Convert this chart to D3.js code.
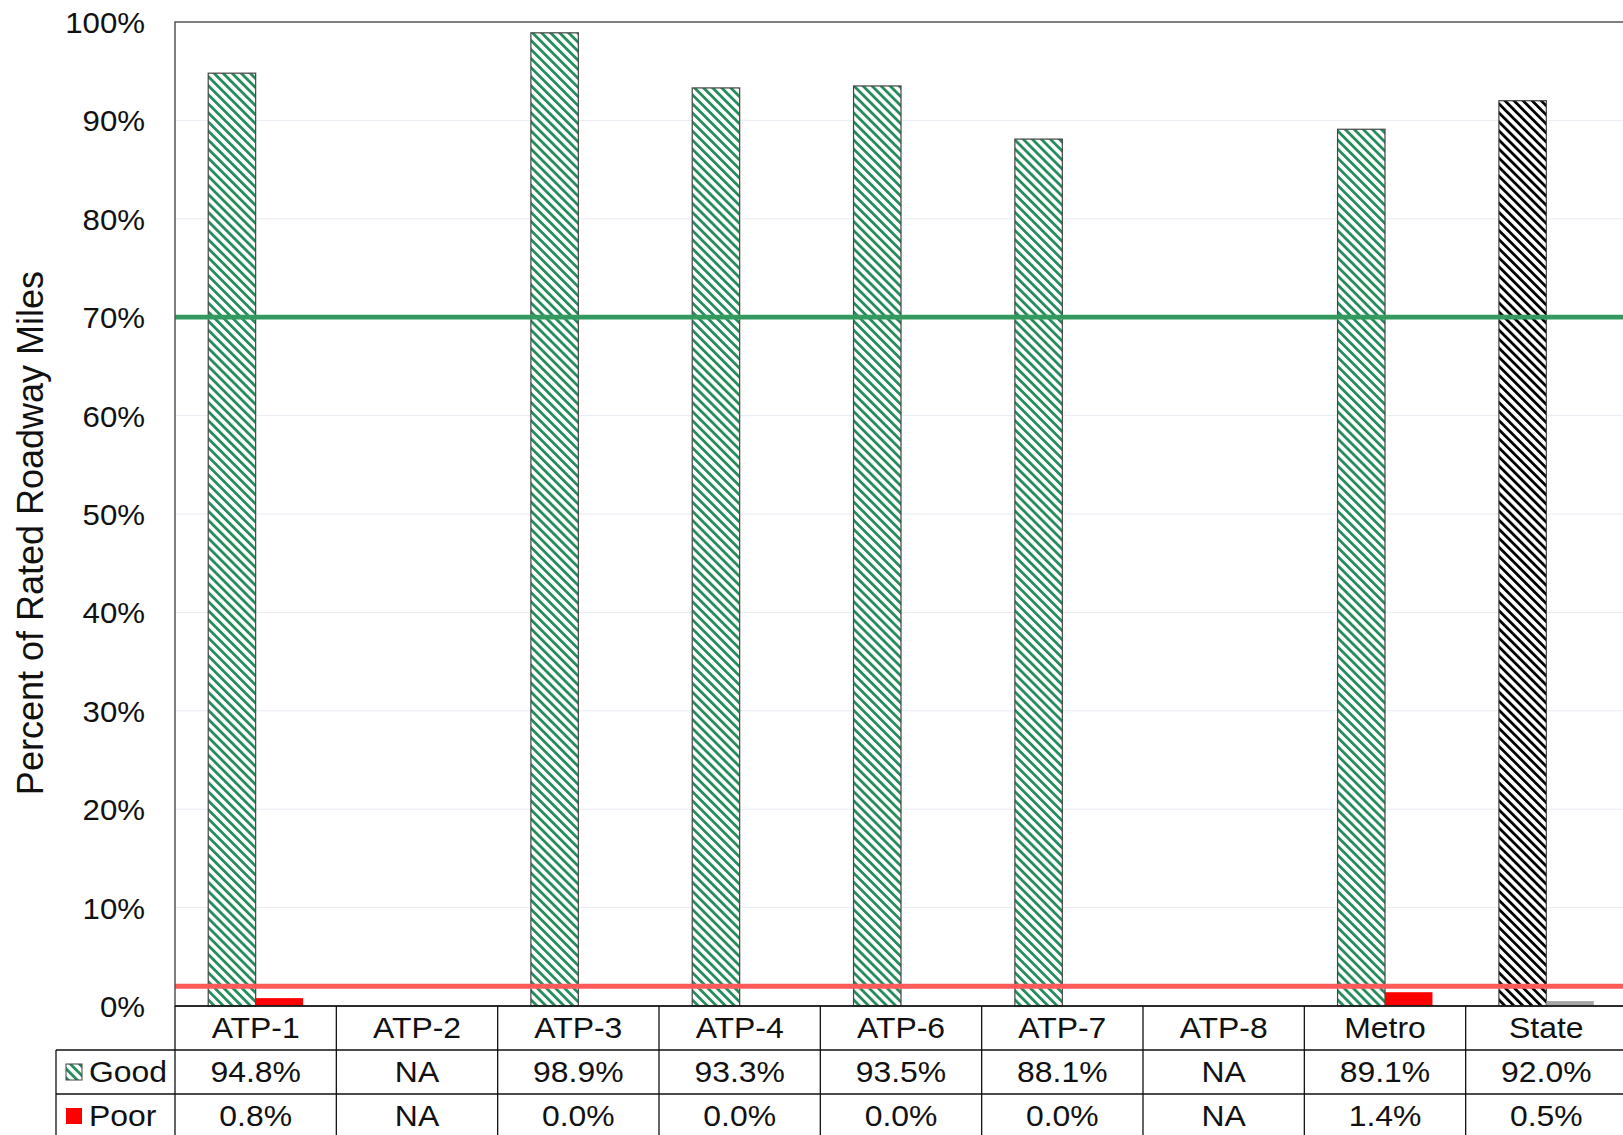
<!DOCTYPE html>
<html>
<head>
<meta charset="utf-8">
<script src="https://cdn.jsdelivr.net/npm/d3@7"></script>
<style>
  html, body { margin: 0; padding: 0; background: #fff; overflow: hidden; }
  svg { display: block; font-family: "Liberation Sans", Arial, sans-serif; }
</style>
</head>
<body>
<svg id="chart" width="1623" height="1135"></svg>
<script>
// Categories and series values (percent of rated roadway miles); null = not available
const categories = ["ATP-1", "ATP-2", "ATP-3", "ATP-4", "ATP-6", "ATP-7", "ATP-8", "Metro", "State"];
const seriesNames = ["Good", "Poor"];
const goodValues = [94.8, null, 98.9, 93.3, 93.5, 88.1, null, 89.1, 92.0];
const poorValues = [0.8, null, 0.0, 0.0, 0.0, 0.0, null, 1.4, 0.5];
const yTicks = [0, 10, 20, 30, 40, 50, 60, 70, 80, 90, 100];
const goodTarget = 70;
const poorTarget = 2;

(function () {
  const svg = d3.select("#chart");
  const plotLeft = 175, plotRight = 1627, plotTop = 22, plotBottom = 1006;
  const rowH = 44;
  const tableFont = 29, tableStretch = 1.1;

  const x0 = d3.scaleBand().domain(categories).range([plotLeft, plotRight]).paddingInner(0).paddingOuter(0);
  const x1 = d3.scaleBand().domain(seriesNames).range([0, x0.bandwidth()]).paddingInner(0).paddingOuter(0.7);
  const y = d3.scaleLinear().domain([0, 100]).range([plotBottom, plotTop]);

  // Hatch patterns
  const defs = svg.append("defs");
  function hatch(id, color) {
    const p = defs.append("pattern")
      .attr("id", id)
      .attr("patternUnits", "userSpaceOnUse")
      .attr("width", 6.4).attr("height", 6.4)
      .attr("patternTransform", "rotate(-45)");
    p.append("rect").attr("width", 6.4).attr("height", 6.4).attr("fill", "#fff");
    p.append("rect").attr("x", 0).attr("width", 2.8).attr("height", 6.4).attr("fill", color);
  }
  hatch("hatchGreen", "#258c5a");
  hatch("hatchBlack", "#000");

  // Gridlines
  svg.append("g")
    .selectAll("line")
    .data(yTicks.filter(t => t > 0 && t < 100))
    .join("line")
    .attr("x1", plotLeft).attr("x2", plotRight)
    .attr("y1", d => y(d)).attr("y2", d => y(d))
    .attr("stroke", "#e6eaf2").attr("stroke-width", 1);

  // Y axis tick labels
  const yAxis = d3.axisLeft(y).tickValues(yTicks).tickFormat(d => d + "%").tickSize(0).tickPadding(0);
  const yg = svg.append("g").attr("transform", `translate(${plotLeft - 30},0)`).call(yAxis);
  yg.select(".domain").remove();
  yg.selectAll("text")
    .attr("font-size", 30)
    .attr("font-family", "'Liberation Sans', Arial, sans-serif")
    .attr("fill", "#111")
    .attr("dy", "0.35em")
    .attr("transform", "scale(1.04,1)");

  // Y axis title
  svg.append("text")
    .attr("transform", `translate(43,533) rotate(-90)`)
    .attr("text-anchor", "middle")
    .attr("font-size", 36)
    .attr("fill", "#111")
    .text("Percent of Rated Roadway Miles");

  // Bars
  const rows = categories.map((c, i) => ({ cat: c, Good: goodValues[i], Poor: poorValues[i] }));
  const groups = svg.append("g").selectAll("g")
    .data(rows)
    .join("g")
    .attr("transform", d => `translate(${x0(d.cat)},0)`);

  groups.selectAll("rect")
    .data(d => seriesNames.map(s => ({ s, v: d[s], cat: d.cat })).filter(e => e.v !== null && e.v > 0))
    .join("rect")
    .attr("x", d => x1(d.s))
    .attr("width", x1.bandwidth())
    .attr("y", d => y(d.v))
    .attr("height", d => y(0) - y(d.v))
    .attr("fill", d => d.s === "Good"
        ? (d.cat === "State" ? "url(#hatchBlack)" : "url(#hatchGreen)")
        : (d.cat === "State" ? "#a6a6a6" : "#ff0000"))
    .attr("stroke", d => d.s === "Good" ? "#444" : "none")
    .attr("stroke-width", 1.2);

  // Target lines
  svg.append("line")
    .attr("x1", plotLeft).attr("x2", plotRight)
    .attr("y1", y(goodTarget)).attr("y2", y(goodTarget))
    .attr("stroke", "#34995f").attr("stroke-width", 4.8);
  svg.append("line")
    .attr("x1", plotLeft).attr("x2", plotRight)
    .attr("y1", y(poorTarget)).attr("y2", y(poorTarget))
    .attr("stroke", "#ff5a5a").attr("stroke-width", 5);

  // Plot border
  svg.append("rect")
    .attr("x", plotLeft).attr("y", plotTop)
    .attr("width", plotRight - plotLeft).attr("height", plotBottom - plotTop)
    .attr("fill", "none").attr("stroke", "#555").attr("stroke-width", 1.5);

  // Data table below the plot
  const table = svg.append("g").attr("stroke", "#111").attr("stroke-width", 1.3);
  const legendLeft = 56;
  const tableBottom = plotBottom + rowH * 3;
  table.append("line").attr("x1", plotLeft).attr("x2", plotRight).attr("y1", plotBottom).attr("y2", plotBottom);
  [1, 2, 3].forEach(r => {
    table.append("line")
      .attr("x1", legendLeft).attr("x2", plotRight)
      .attr("y1", plotBottom + rowH * r).attr("y2", plotBottom + rowH * r);
  });
  categories.forEach(c => {
    table.append("line")
      .attr("x1", x0(c)).attr("x2", x0(c))
      .attr("y1", plotBottom).attr("y2", tableBottom);
  });
  table.append("line").attr("x1", plotRight).attr("x2", plotRight).attr("y1", plotBottom).attr("y2", tableBottom);
  table.append("line").attr("x1", legendLeft).attr("x2", legendLeft)
    .attr("y1", plotBottom + rowH).attr("y2", tableBottom);

  const fmt = v => v === null ? "NA" : v.toFixed(1) + "%";
  const textG = svg.append("g").attr("font-size", tableFont).attr("fill", "#111").attr("text-anchor", "middle");
  const cellText = (sel, cx, cy) => sel
    .attr("transform", (d, i) => `translate(${cx(d, i)},${cy}) scale(${tableStretch},1)`)
    .attr("dy", "0.35em");

  cellText(textG.append("g").selectAll("text")
    .data(categories)
    .join("text")
    .text(d => d), d => x0(d) + x0.bandwidth() / 2, plotBottom + rowH * 0.5);

  [goodValues, poorValues].forEach((vals, r) => {
    cellText(textG.append("g").selectAll("text")
      .data(vals)
      .join("text")
      .text(d => fmt(d)), (d, i) => x0(categories[i]) + x0.bandwidth() / 2, plotBottom + rowH * (r + 1.5));
  });

  // Legend keys in the table's row headers
  seriesNames.forEach((s, r) => {
    const cy = plotBottom + rowH * (r + 1.5);
    svg.append("rect")
      .attr("x", 66).attr("y", cy - 8)
      .attr("width", 16).attr("height", 16)
      .attr("fill", s === "Good" ? "url(#hatchGreen)" : "#ff0000")
      .attr("stroke", s === "Good" ? "#444" : "none")
      .attr("stroke-width", 1);
    svg.append("text")
      .attr("transform", `translate(89,${cy}) scale(${tableStretch},1)`)
      .attr("dy", "0.35em")
      .attr("font-size", tableFont).attr("fill", "#111")
      .text(s);
  });
})();
</script>
</body>
</html>
